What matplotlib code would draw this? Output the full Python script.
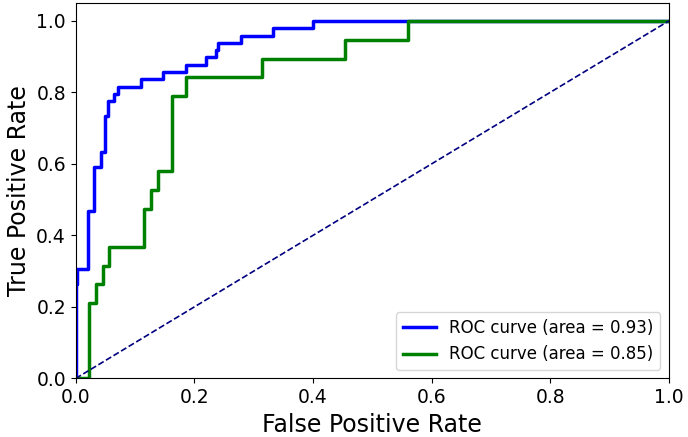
import matplotlib
matplotlib.use("Agg")
import matplotlib.pyplot as plt

# ROC curve 1 (area = 0.93)
fpr1 = [0.0, 0.0, 0.003, 0.003, 0.021, 0.021, 0.031, 0.031, 0.043, 0.043,
        0.049, 0.049, 0.054, 0.054, 0.065, 0.065, 0.071, 0.071, 0.110, 0.110,
        0.148, 0.148, 0.186, 0.186, 0.219, 0.219, 0.236, 0.236, 0.240, 0.240,
        0.279, 0.279, 0.333, 0.333, 0.401, 0.401, 1.0]
tpr1 = [0.0, 13/49, 13/49, 15/49, 15/49, 23/49, 23/49, 29/49, 29/49, 31/49,
        31/49, 36/49, 36/49, 38/49, 38/49, 39/49, 39/49, 40/49, 40/49, 41/49,
        41/49, 42/49, 42/49, 43/49, 43/49, 44/49, 44/49, 45/49, 45/49, 46/49,
        46/49, 47/49, 47/49, 48/49, 48/49, 1.0, 1.0]

# ROC curve 2 (area = 0.85)
fpr2 = [0.0, 0.023, 0.023, 0.034, 0.034, 0.046, 0.046, 0.057, 0.057, 0.116,
        0.116, 0.127, 0.127, 0.139, 0.139, 0.162, 0.162, 0.186, 0.186, 0.315,
        0.315, 0.454, 0.454, 0.560, 0.560, 1.0]
tpr2 = [0.0, 0.0, 4/19, 4/19, 5/19, 5/19, 6/19, 6/19, 7/19, 7/19,
        9/19, 9/19, 10/19, 10/19, 11/19, 11/19, 15/19, 15/19, 16/19, 16/19,
        17/19, 17/19, 18/19, 18/19, 1.0, 1.0]

auc1 = 0.93
auc2 = 0.85

fig = plt.figure(figsize=(6.88, 4.37), dpi=100)
ax = fig.add_axes([0.110, 0.134, 0.862, 0.859])

ax.plot(fpr1, tpr1, color='blue', lw=2.5, label='ROC curve (area = %0.2f)' % auc1)
ax.plot(fpr2, tpr2, color='green', lw=2.5, label='ROC curve (area = %0.2f)' % auc2)
ax.plot([0, 1], [0, 1], color='navy', lw=1.2, linestyle='--')

ax.set_xlim(0.0, 1.0)
ax.set_ylim(0.0, 1.05)
ax.set_xlabel('False Positive Rate', fontsize=17)
ax.set_ylabel('True Positive Rate', fontsize=17)
ax.tick_params(labelsize=13.5)
ax.legend(loc='lower right', fontsize=12)

fig.savefig('out.png', dpi=100)
